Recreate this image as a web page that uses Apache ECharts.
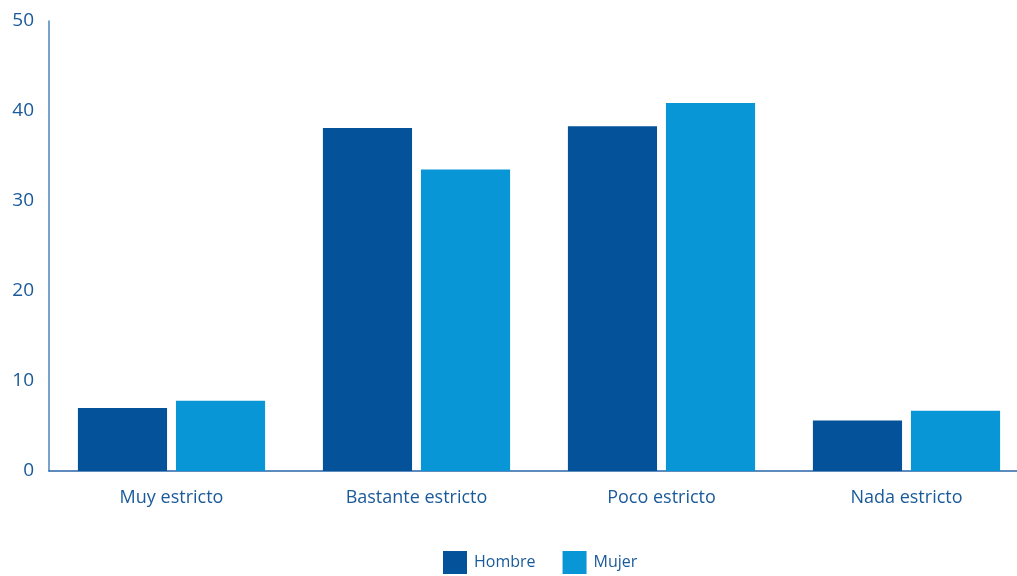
<!DOCTYPE html>
<html><head><meta charset="utf-8">
<script src="https://cdn.jsdelivr.net/npm/echarts@6/dist/echarts.min.js"></script>
<style>html,body{margin:0;padding:0;background:#fff}#c{width:1017px;height:576px}</style>
</head><body><div id="c"></div>
<script>
const categories = ['Muy estricto', 'Bastante estricto', 'Poco estricto', 'Nada estricto'];
const hombre = [7.0, 38.1, 38.3, 5.6];
const mujer = [7.8, 33.5, 40.9, 6.7];
const seriesNames = ['Hombre', 'Mujer'];
const textColor = '#1a5a9a';
const chart = echarts.init(document.getElementById('c'));
chart.setOption({
  animation: false,
  textStyle: { fontFamily: 'Open Sans' },
  grid: { left: 49, width: 980, top: 21, height: 450, outerBoundsMode: 'none', containLabel: false },
  legend: {
    top: 546, left: 438, itemWidth: 24, itemHeight: 23, itemGap: 27,
    icon: 'rect',
    textStyle: { color: textColor, fontSize: 16, fontFamily: 'Open Sans', padding: [0, 0, 0, 2] },
    data: seriesNames
  },
  xAxis: {
    type: 'category', data: categories,
    axisLine: { lineStyle: { color: '#2a66a8', width: 1.5 } },
    axisTick: { show: false },
    axisLabel: { color: textColor, fontSize: 18, margin: 18, fontFamily: 'Open Sans' }
  },
  yAxis: {
    type: 'value', min: 0, max: 50, interval: 10,
    axisLine: { show: true, lineStyle: { color: '#4a84bd', width: 1.5 } },
    axisTick: { show: false },
    splitLine: { show: false },
    axisLabel: { color: textColor, fontSize: 19, margin: 15, fontFamily: 'Open Sans', padding: [4, 0, 0, 0] }
  },
  series: [
    { name: 'Hombre', type: 'bar', data: hombre, barGap: '10%', barCategoryGap: '23.6%',
      itemStyle: { color: '#03529a' } },
    { name: 'Mujer', type: 'bar', data: mujer,
      itemStyle: { color: '#0896d6' } }
  ]
});
</script></body></html>
